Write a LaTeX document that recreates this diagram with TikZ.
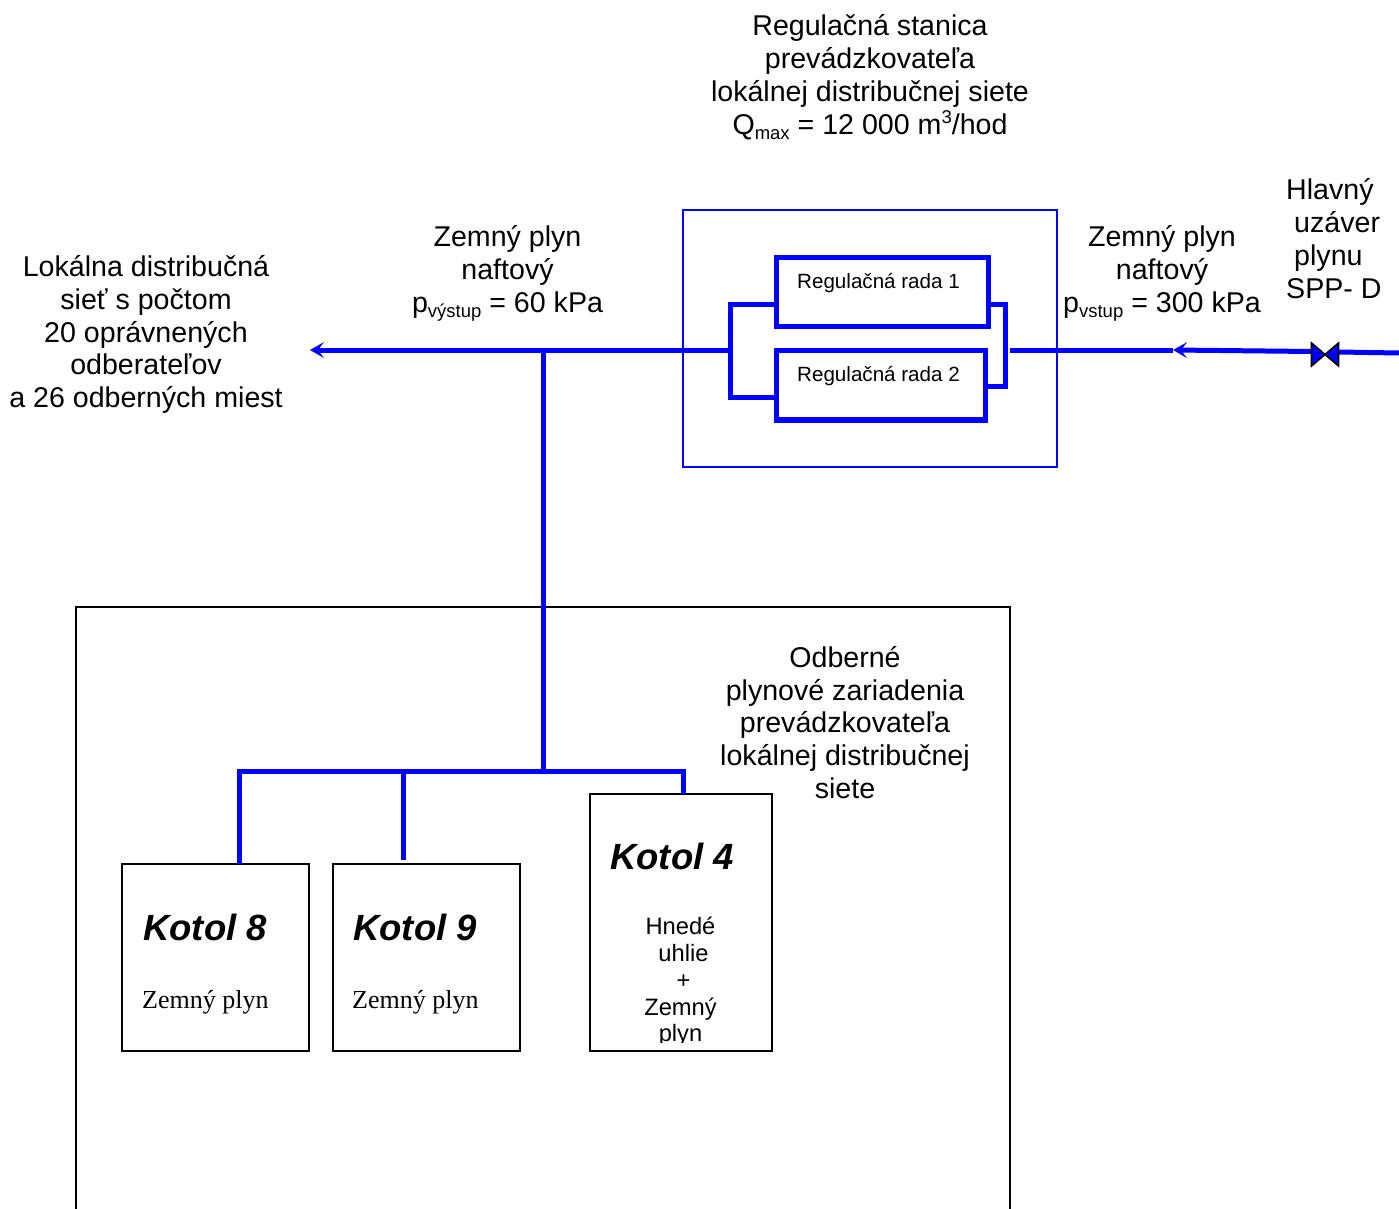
\documentclass[tikz,border=0pt]{standalone}
\usepackage{fontspec}
\setmainfont{Liberation Sans}
\newfontfamily\serifcap{Liberation Serif}
\usetikzlibrary{arrows.meta}
\newcommand{\subtxt}[1]{\raisebox{-5pt}{\fontsize{18.5}{20}\selectfont #1}}
\newcommand{\suptxt}[1]{\raisebox{11pt}{\fontsize{18.5}{20}\selectfont #1}}
\tikzset{
  x=1pt,y=-1pt,
  lab/.style={inner sep=0pt,align=center,font=\fontsize{28.6}{32.8}\selectfont},
  labl/.style={lab,align=left},
  small/.style={inner sep=0pt,anchor=west,font=\fontsize{20.6}{24}\selectfont},
  kotol/.style={inner sep=0pt,anchor=west,font=\fontsize{36.5}{44}\selectfont\bfseries\itshape},
  fuel/.style={inner sep=0pt,anchor=west,font=\fontsize{26}{30}\selectfont\serifcap},
  fuelb/.style={inner sep=0pt,align=center,font=\fontsize{23.7}{26.8}\selectfont},
  blackbox/.style={draw=black,line width=2pt,inner sep=0pt,fill=white},
  bluethin/.style={draw=blue,line width=1.6pt,inner sep=0pt},
  bluebox/.style={draw=blue,line width=5.2pt,inner sep=0pt},
  pipe/.style={draw=blue,line width=5pt},
  flow/.style={draw=blue,line width=5pt,-{Stealth[length=14pt,width=16pt,inset=6pt,line width=0pt]}},
  valvep/.style={draw=black,line width=1.6pt,fill=blue,line join=miter}
}
\begin{document}
\begin{tikzpicture}
\useasboundingbox (0,0) rectangle (1399,1209);
% outer black box, open at the bottom of the page
\begin{scope}
\clip (0,0) rectangle (1399,1209);
\draw[black,line width=2pt] (76,1230) -- (76,607) -- (1010,607) -- (1010,1230);
\end{scope}
% boxes
\node[bluethin,minimum width=374pt,minimum height=257pt] (station) at (870,338.5) {};
\node[bluebox,minimum width=212pt,minimum height=69pt] (r1) at (882.5,292) {};
\node[bluebox,minimum width=209pt,minimum height=69.5pt] (r2) at (881,385.2) {};
\node[blackbox,minimum width=187pt,minimum height=187pt] (k8) at (215.5,957.5) {};
\node[blackbox,minimum width=187pt,minimum height=187pt] (k9) at (426.5,957.5) {};
\node[blackbox,minimum width=182pt,minimum height=257pt] (k4) at (681,922.5) {};
% junction coordinates
\coordinate (inL) at (730,350);
\coordinate (busT) at (730,304);
\coordinate (busB) at (730,397);
\coordinate (r1L) at (776,304);
\coordinate (r2L) at (776,397);
\coordinate (r1R) at (989,304);
\coordinate (r2R) at (987,386.5);
\coordinate (colT) at (1005,304);
\coordinate (colB) at (1005,386.5);
\coordinate (outR) at (1010,350);
\coordinate (arrL) at (310,350);
\coordinate (tee) at (543,350);
\coordinate (header) at (543,771);
\coordinate (h8) at (239,771);
\coordinate (h9) at (403,771);
\coordinate (h4) at (683,771);
\coordinate (k8t) at (239,864);
\coordinate (k9t) at (403,860);
\coordinate (k4t) at (683,794);
\coordinate (arrR) at (1173,350);
\coordinate (vL) at (1312,351.5);
\coordinate (vR) at (1339,352);
\coordinate (farR) at (1399,353);
% pipes
\draw[pipe,line cap=rect] (busT) -- (busB);
\draw[pipe] (busT) -- (r1L);
\draw[pipe] (busB) -- (r2L);
\draw[pipe,line join=miter] (r1R) -- (colT) -- (colB) -- (r2R);
\draw[flow] (inL) -- (arrL);
\draw[pipe] (tee) -- (header);
\draw[pipe,line cap=rect] (h8) -- (h4);
\draw[pipe] (h8) -- (k8t);
\draw[pipe] (h9) -- (k9t);
\draw[pipe] (h4) -- (k4t);
\draw[pipe] (arrR) -- (outR);
\draw[flow] (vL) -- (arrR);
\draw[pipe] (farR) -- (vR);
% valve
\draw[valvep] (1311.5,343) -- (1338.5,366) -- (1338.5,343) -- (1311.5,366) -- cycle;
% labels
\node[lab] (t1) at (870,77) {Regulačná stanica\\prevádzkovateľa\\lokálnej distribučnej siete\\Q\subtxt{max} = 12 000 m\suptxt{3}/hod};
\node[lab] (t2) at (507.5,273.5) {Zemný plyn\\naftový\\p\subtxt{výstup} = 60 kPa};
\node[lab] (t3) at (1162,273.5) {Zemný plyn\\naftový\\p\subtxt{vstup} = 300 kPa};
\node[labl,anchor=north west] (t4) at (1286,178.5) {Hlavný\\\hspace*{8pt}uzáver\\\hspace*{8pt}plynu\\SPP- D};
\node[lab] (t5) at (146,334.5) {Lokálna distribučná\\sieť s počtom\\20 oprávnených\\odberateľov\\a 26 odberných miest};
\node[lab] (t6) at (845,722.5) {Odberné\\plynové zariadenia\\prevádzkovateľa\\lokálnej distribučnej\\siete};
\node[small] (s1) at (797,283) {Regulačná rada 1};
\node[small] (s2) at (797,376) {Regulačná rada 2};
\node[kotol] (n8) at (143,927) {Kotol 8};
\node[kotol] (n9) at (353,927) {Kotol 9};
\node[kotol] (n4) at (610,856) {Kotol 4};
\node[fuel] (f8) at (142,1002) {Zemný plyn};
\node[fuel] (f9) at (352,1002) {Zemný plyn};
\begin{scope}
\clip (595,900) rectangle (770,1042);
\node[fuelb,anchor=north] (f4) at (680.5,917) {Hnedé\\\hspace*{6pt}uhlie\\\hspace*{6pt}+\\Zemný\\plyn};
\end{scope}
\end{tikzpicture}
\end{document}
